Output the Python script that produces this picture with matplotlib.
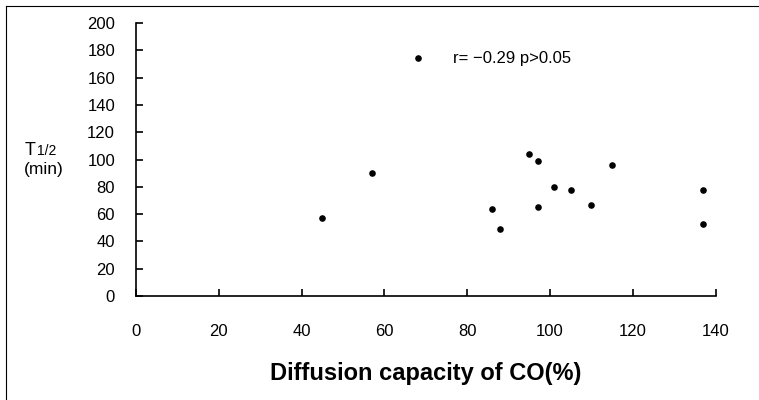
'''Scatter of T1/2 against CO diffusion capacity.'''

# ----------------------------------------------------------------------------
# Modules
from matplotlib import pyplot as plt
from matplotlib.lines import Line2D

# ----------------------------------------------------------------------------
# Data
dlco = [45, 57, 68, 86, 88, 95, 97, 97, 101, 105, 110, 115, 137, 137]
t_half = [57, 90, 174, 64, 49, 104, 99, 65, 80, 78, 67, 96, 78, 53]

x_ticks = [0, 20, 40, 60, 80, 100, 120, 140]
y_ticks = [0, 20, 40, 60, 80, 100, 120, 140, 160, 180, 200]

# ----------------------------------------------------------------------------


def main():
    plt.rcParams['font.family'] = ['Liberation Sans', 'DejaVu Sans']

    figure = plt.figure(figsize=(7.59, 4.0), dpi=100)
    ax = figure.add_axes([0.179, 0.26, 0.764, 0.6825])

    ax.scatter(dlco, t_half, s=14, marker='o', color='black', zorder=3,
               clip_on=False)

    ax.set_xlim(0, 140)
    ax.set_ylim(0, 200)
    ax.set_xticks(x_ticks)
    ax.set_yticks(y_ticks)
    ax.spines['top'].set_visible(False)
    ax.spines['right'].set_visible(False)
    for side in ('left', 'bottom'):
        ax.spines[side].set_linewidth(1.2)
    ax.tick_params(axis='both', direction='in', length=5, width=1.2,
                   labelsize=12)
    ax.tick_params(axis='y', pad=15)
    ax.tick_params(axis='x', pad=20)

    ax.text(76.5, 174, 'r= \u22120.29 p>0.05', fontsize=12,
            va='center', ha='left')

    ax.set_xlabel('Diffusion capacity of CO(%)', fontsize=17,
                  fontweight='bold', labelpad=17)

    # y label, written by hand as T with a small 1/2
    figure.text(0.032, 0.6125, 'T', fontsize=13, ha='left', va='baseline')
    figure.text(0.049, 0.6125, '1/2', fontsize=10, ha='left',
                va='baseline')
    figure.text(0.032, 0.565, '(min)', fontsize=12.5, ha='left',
                va='baseline')

    # remains of the scanned frame
    figure.add_artist(Line2D([0.008, 0.008], [0.0, 0.984],
                             transform=figure.transFigure, color='black',
                             linewidth=0.8))
    figure.add_artist(Line2D([0.008, 1.0], [0.984, 0.984],
                             transform=figure.transFigure, color='black',
                             linewidth=0.8))

    plt.savefig('out.png', dpi=100)

    return None

# ----------------------------------------------------------------------------


if __name__ == '__main__':
    main()
